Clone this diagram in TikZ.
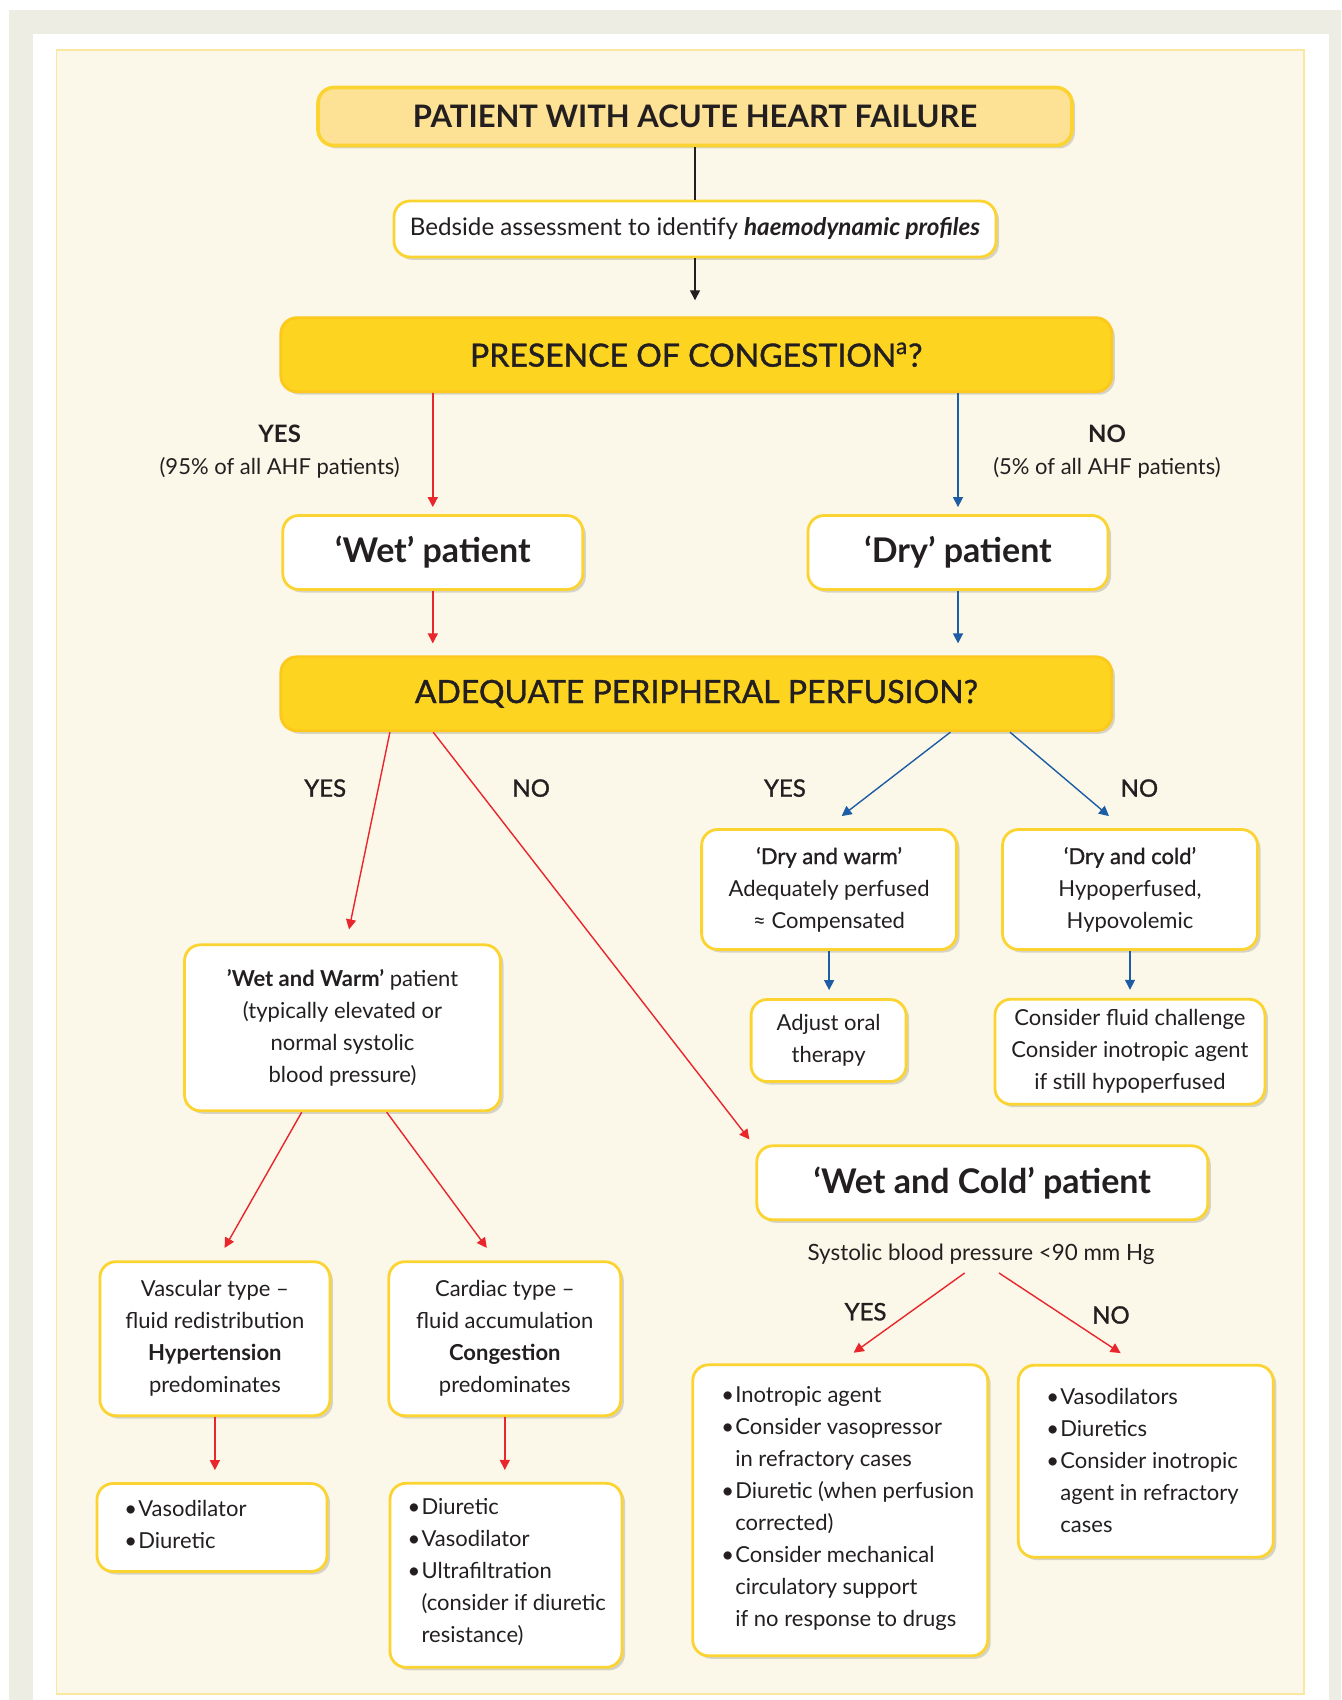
\documentclass[tikz,border=0pt]{standalone}
\usepackage{fontspec}
\setmainfont{Lato}
\newfontfamily\medfont{Lato}[FakeBold=1.2]
\usetikzlibrary{arrows.meta,shadows,calc}
\definecolor{bggray}{HTML}{EEEDE3}
\definecolor{cream}{HTML}{FCF8E9}
\definecolor{creamline}{HTML}{FBE7A0}
\definecolor{boxyellow}{HTML}{FCD431}
\definecolor{qyellow}{HTML}{FDD521}
\definecolor{topfill}{HTML}{FDE194}
\definecolor{arrred}{HTML}{E9262B}
\definecolor{arrblue}{HTML}{1D5DA5}
\definecolor{txt}{HTML}{231F20}
\newcommand\bodyfont{\fontsize{11}{16}\selectfont}
\newcommand\bigfont{\fontsize{16}{18}\selectfont}
\newcommand\boldbig{\fontsize{17}{19}\selectfont\bfseries}
\newcommand\bl[1]{\makebox[7pt][l]{\textbullet}#1}
\newcommand\bc[1]{\hspace*{7pt}#1}
\begin{document}
\begin{tikzpicture}[x=0.5pt,y=-0.5pt,
  wbox/.style={draw=boxyellow, line width=1.4pt, rounded corners=8pt, fill=white,
    drop shadow={shadow xshift=1.5pt, shadow yshift=-1.5pt, opacity=0.15, fill=black},
    inner sep=0pt, align=center, text=txt, font=\bodyfont},
  qbox/.style={wbox, fill=qyellow, draw=qyellow!85!orange, font=\bigfont\medfont},
  tbox/.style={wbox, fill=topfill, draw=boxyellow, line width=1.8pt, font=\fontsize{15.5}{17}\selectfont\bfseries},
  lbl/.style={inner sep=0pt, align=center, text=txt, font=\bodyfont},
  yn/.style={lbl, font=\fontsize{12}{14}\selectfont\medfont},
  lst/.style={inner sep=0pt, align=left, text=txt, font=\bodyfont, anchor=west},
  tip/.style={-{Triangle[length=5pt,width=5pt]}},
  redarr/.style={tip, draw=arrred, fill=arrred, line width=0.7pt},
  bluearr/.style={tip, draw=arrblue, fill=arrblue, line width=0.7pt},
  blkarr/.style={draw=txt, line width=0.7pt}
]
\useasboundingbox (0,0) rectangle (1341,1700);
\fill[white] (0,0) rectangle (1341,1700);
\fill[bggray] (8.5,10) rectangle (1341,1700);
\fill[white] (32.5,34) rectangle (1329,1700);
\filldraw[fill=cream, draw=creamline, line width=0.8pt] (56.5,50) rectangle (1304,1694);

% nodes
\node[tbox, minimum width=377pt, minimum height=29pt] (top) at (695,116.5) {PATIENT WITH ACUTE HEART FAILURE};
\node[wbox, minimum width=301pt, minimum height=28pt, font=\fontsize{12.1}{14}\selectfont] (bedside) at (695,229) {Bedside assessment to identify \textbf{\itshape haemodynamic profiles}};
\node[qbox, minimum width=415.5pt, minimum height=37pt] (presence) at (696.3,354.7) {PRESENCE OF CONGESTION\textsuperscript{a}?};
\node[wbox, minimum width=150pt, minimum height=37pt, font=\boldbig] (wet) at (432.8,552.5) {‘Wet’ patient};
\node[wbox, minimum width=150pt, minimum height=37pt, font=\boldbig] (dry) at (958,552.5) {‘Dry’ patient};
\node[qbox, minimum width=415.5pt, minimum height=37pt] (adequate) at (696.3,693.8) {ADEQUATE PERIPHERAL PERFUSION?};

\node[wbox, minimum width=127.5pt, minimum height=60pt] (drywarm) at (829.1,889.5) {{\medfont ‘Dry and warm’}\\Adequately perfused\\≈ Compensated};
\node[wbox, minimum width=127.5pt, minimum height=60pt] (drycold) at (1130,889.5) {{\medfont ‘Dry and cold’}\\Hypoperfused,\\Hypovolemic};
\node[wbox, minimum width=77.5pt, minimum height=41pt] (adjust) at (828.6,1040.5) {Adjust oral\\therapy};
\node[wbox, minimum width=135pt, minimum height=52.5pt] (fluid) at (1129.9,1051.7) {Consider fluid challenge\\Consider inotropic agent\\if still hypoperfused};
\node[wbox, minimum width=225.5pt, minimum height=37pt, font=\boldbig] (wetcold) at (982.3,1182.8) {‘Wet and Cold’ patient};
\node[lbl, font=\fontsize{11.2}{14}\selectfont] (sbp) at (981,1254.3) {Systolic blood pressure <90 mm Hg};
\node[wbox, minimum width=147.5pt, minimum height=145.5pt] (inotrop) at (840.2,1510.3) {};
\node[lst] (inotroplist) at (720.9,1508.3) {\bl{Inotropic agent}\\\bl{Consider vasopressor}\\\bc{in refractory cases}\\\bl{Diuretic (when perfusion}\\\bc{corrected)}\\\bl{Consider mechanical}\\\bc{circulatory support}\\\bc{if no response to drugs}};
\node[wbox, minimum width=127.5pt, minimum height=96pt] (vasos) at (1145.8,1461.2) {};
\node[lst] (vasoslist) at (1046,1460.3) {\bl{Vasodilators}\\\bl{Diuretics}\\\bl{Consider inotropic}\\\bc{agent in refractory}\\\bc{cases}};

\node[wbox, minimum width=158pt, minimum height=83pt] (wetwarm) at (342.5,1027.8) {\textbf{’Wet and Warm’} patient\\(typically elevated or\\normal systolic\\blood pressure)};
\node[wbox, minimum width=115pt, minimum height=77pt] (vascular) at (214.9,1338.7) {Vascular type –\\fluid redistribution\\\textbf{Hypertension}\\predominates};
\node[wbox, minimum width=116pt, minimum height=77pt] (cardiac) at (504.8,1338.7) {Cardiac type –\\fluid accumulation\\\textbf{Congestion}\\predominates};
\node[wbox, minimum width=115pt, minimum height=44pt] (vd) at (212,1527.5) {};
\node[lst] (vdlist) at (124,1524) {\bl{Vasodilator}\\\bl{Diuretic}};
\node[wbox, minimum width=116pt, minimum height=92pt] (cd) at (506,1575.3) {};
\node[lst] (cdlist) at (407.2,1572) {\bl{Diuretic}\\\bl{Vasodilator}\\\bl{Ultrafiltration}\\\bc{(consider if diuretic}\\\bc{resistance)}};

% labels
\node[lbl] (yes1) at (279.7,451.5) {{\fontsize{12}{14}\selectfont\bfseries YES}\\(95\% of all AHF patients)};
\node[lbl] (no1) at (1107,451.5) {{\fontsize{12}{14}\selectfont\bfseries NO}\\(5\% of all AHF patients)};
\node[yn] (yes2) at (325.2,788.1) {YES};
\node[yn] (no2) at (531.2,788.1) {NO};
\node[yn] (yes3) at (784.9,788.1) {YES};
\node[yn] (no3) at (1139.4,788.1) {NO};
\node[yn] (yes4) at (865.5,1311.7) {YES};
\node[yn] (no4) at (1110.9,1315) {NO};

% connectors
\draw[blkarr] (top.south) -- (bedside.north);
\draw[blkarr, tip, fill=txt, shorten >=8pt] (bedside.south) -- (bedside.south |- presence.north);
\draw[redarr, shorten >=3.5pt] (presence.south -| wet.north) -- (wet.north);
\draw[bluearr, shorten >=3.5pt] (presence.south -| dry.north) -- (dry.north);
\draw[redarr, shorten >=6pt] (wet.south) -- (wet.south |- adequate.north);
\draw[bluearr, shorten >=6pt] (dry.south) -- (dry.south |- adequate.north);
\draw[redarr] ($(adequate.south west)+(110.5,0)$) -- ($(wetwarm.north)+(6.5,-14)$);
\draw[redarr] ($(adequate.south west)+(153.8,0)$) -- ($(wetcold.north west)+(-6,-5)$);
\draw[bluearr] ($(adequate.south west)+(671,0)$) -- ($(drywarm.north)+(12.5,-12)$);
\draw[bluearr] ($(adequate.south west)+(730.6,0)$) -- ($(drycold.north)+(-21,-12)$);
\draw[bluearr, shorten >=4pt] (drywarm.south) -- (drywarm.south |- adjust.north);
\draw[bluearr, shorten >=4pt] (drycold.south) -- (drycold.south |- fluid.north);
\draw[redarr] ($(wetwarm.south west)+(118.6,0)$) -- ($(vascular.north)+(9.7,-12.4)$);
\draw[redarr] ($(wetwarm.south west)+(203.6,0)$) -- ($(cardiac.north)+(-18,-12.4)$);
\draw[redarr, shorten >=6pt] (vascular.south) -- (vascular.south |- vd.north);
\draw[redarr, shorten >=6pt] (cardiac.south) -- (cardiac.south |- cd.north);
\draw[redarr] ($(sbp.south)+(-16.4,8)$) -- ($(inotrop.north)+(13.5,-10.7)$);
\draw[redarr] ($(sbp.south)+(18,8)$) -- ($(vasos.north)+(-25.2,-10.7)$);
\end{tikzpicture}
\end{document}
